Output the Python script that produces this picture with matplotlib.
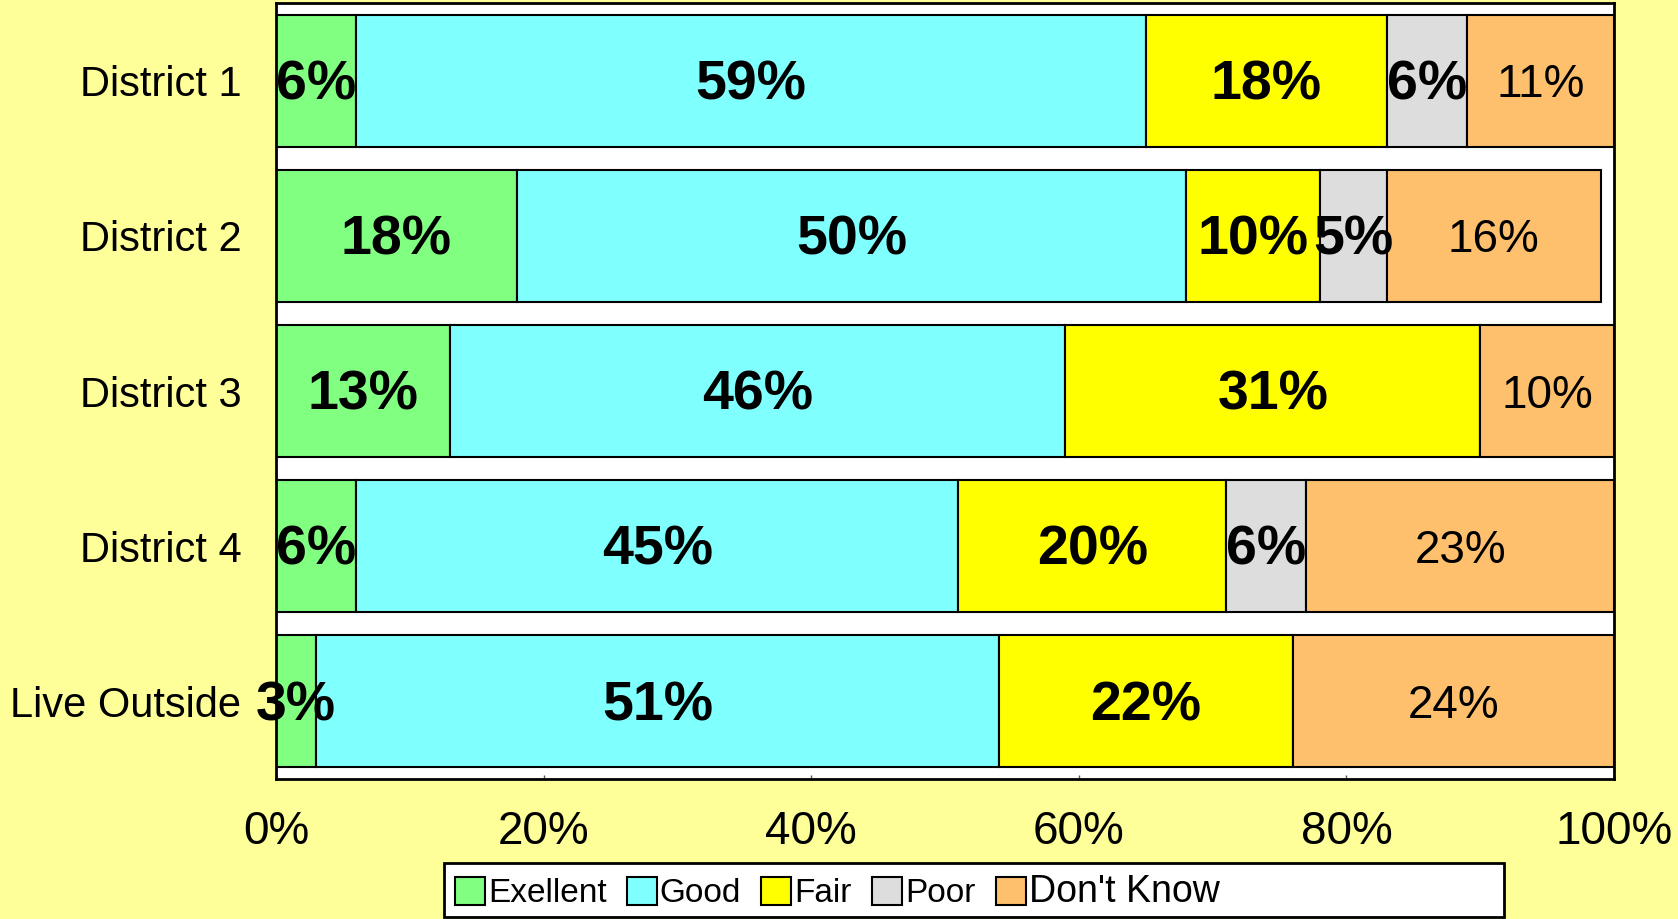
import matplotlib.pyplot as plt
import numpy as np
from matplotlib.patches import Rectangle

plt.rcParams['font.family'] = ['Liberation Sans', 'DejaVu Sans']

districts = ["District 1", "District 2", "District 3", "District 4", "Live Outside"]
ratings = ["Exellent", "Good", "Fair", "Poor", "Don't Know"]
excellent = [6, 18, 13, 6, 3]
good = [59, 50, 46, 45, 51]
fair = [18, 10, 31, 20, 22]
poor = [6, 5, 0, 6, 0]
dont_know = [11, 16, 10, 23, 24]
xticks = [0, 20, 40, 60, 80, 100]

series = [excellent, good, fair, poor, dont_know]
colors = ["#80FF80", "#80FFFF", "#FFFF00", "#DDDDDD", "#FFC06E"]
bold = [True, True, True, True, False]

fig = plt.figure(figsize=(16.78, 9.19), dpi=100, facecolor="#FFFF99")
ax = fig.add_axes([0.1645, 0.1523, 0.7974, 0.8444])
ax.set_facecolor("white")

y = np.arange(len(districts))
left = np.zeros(len(districts))
for vals, col, name, b in zip(series, colors, ratings, bold):
    vals = np.array(vals, dtype=float)
    ax.barh(y, vals, left=left, height=0.85, color=col, edgecolor="black",
            linewidth=1.5, label=name)
    for yi, (l, v) in enumerate(zip(left, vals)):
        if v > 0:
            ax.text(l + v / 2, yi + 0.03, f"{int(v)}%", ha="center", va="center",
                    fontsize=40 if b else 33,
                    fontweight="bold" if b else "normal", color="black")
    left += vals

ax.set_xlim(0, 100)
ax.set_ylim(4.5, -0.5)
ax.set_yticks(y)
ax.set_yticklabels(districts, fontsize=30)
ax.set_xticks(xticks)
ax.set_xticklabels([f"{t}%" for t in xticks], fontsize=33)
ax.tick_params(axis="y", length=0, pad=25)
ax.tick_params(axis="x", direction="in", length=3, width=1, colors="#555555",
               labelcolor="black", pad=22)
for s in ax.spines.values():
    s.set_linewidth(2)
    s.set_color("black")

# legend frame
fig.patches.append(Rectangle((0.2646, 0.002), 0.632, 0.0588, transform=fig.transFigure,
                             facecolor="white", edgecolor="black", linewidth=2))
leg = fig.legend(loc="center left", bbox_to_anchor=(0.257, 0.029), ncol=5, frameon=False,
                 fontsize=24, handlelength=0.9, handleheight=0.9, handletextpad=0.1,
                 columnspacing=0.6, borderpad=0.2)
texts = leg.get_texts()
texts[-1].set_fontsize(27)

fig.savefig("out.png", dpi=100, facecolor=fig.get_facecolor())
